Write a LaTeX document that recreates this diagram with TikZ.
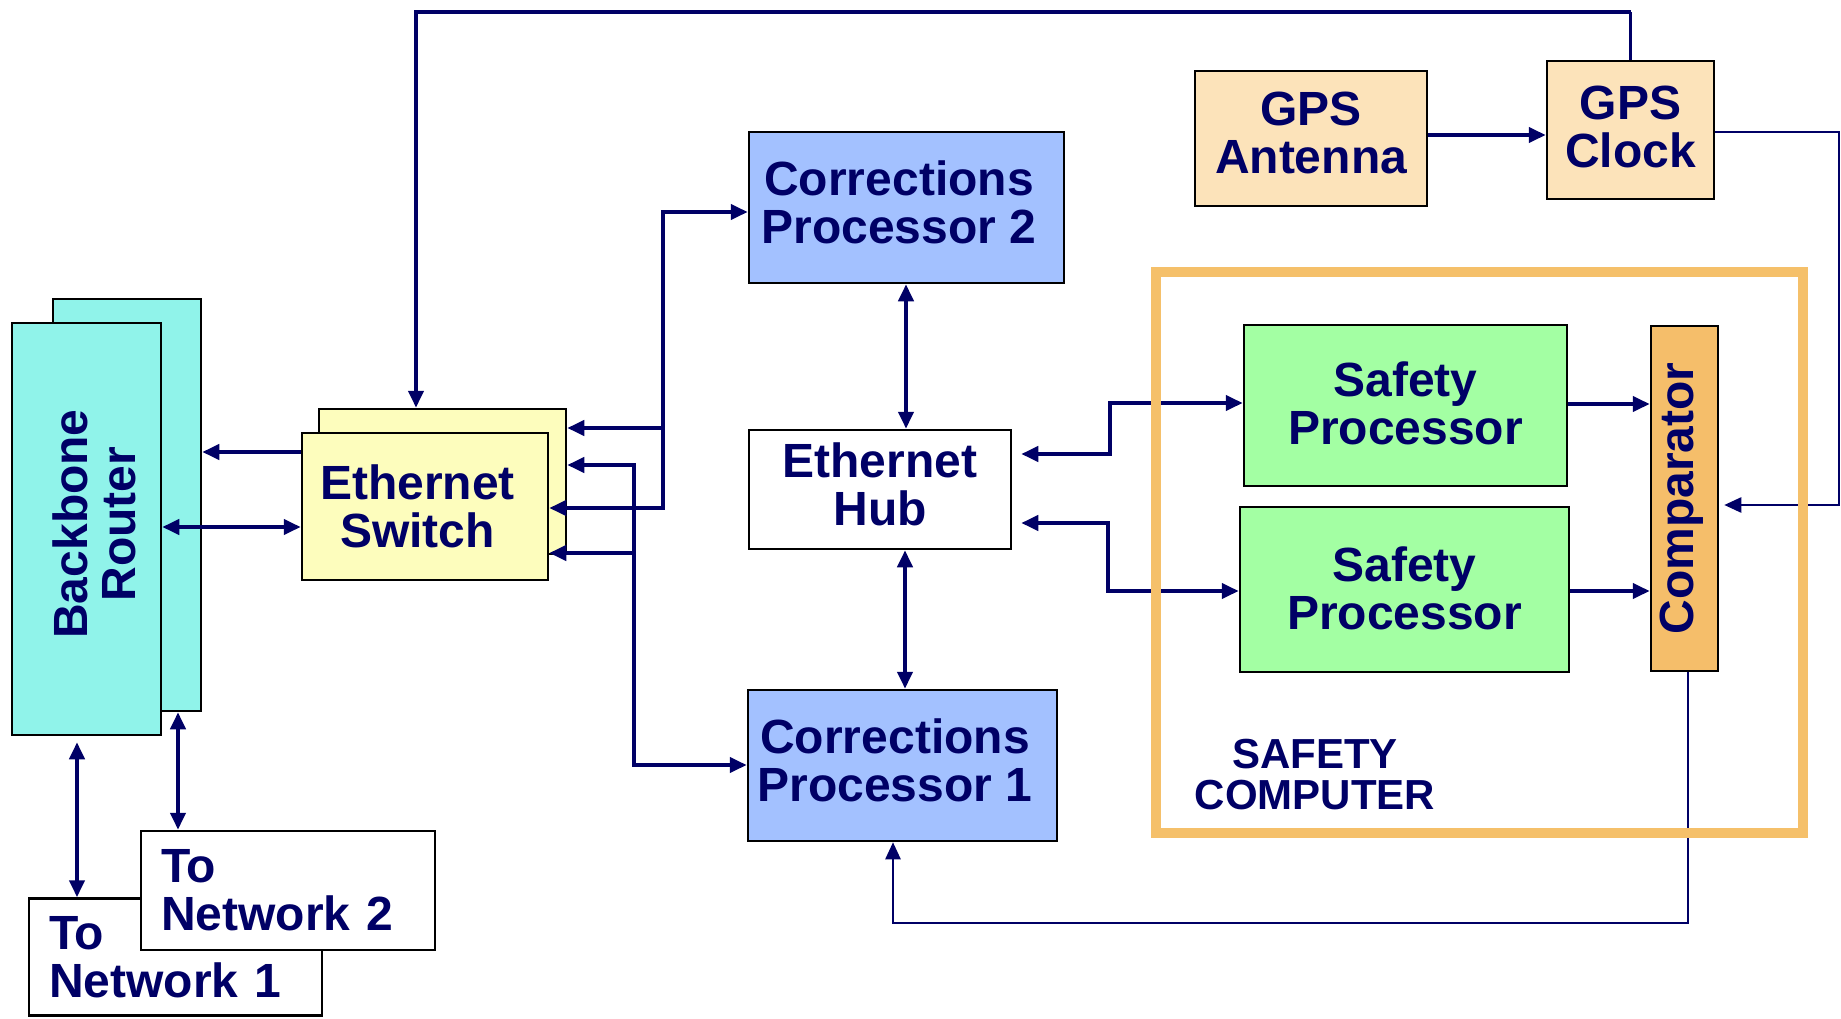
\documentclass[tikz,border=0pt]{standalone}
\usepackage{fontspec}
\setmainfont{Liberation Sans}
\usetikzlibrary{arrows.meta}

\definecolor{ink}{RGB}{0,0,102}
\definecolor{routerfill}{RGB}{144,243,234}
\definecolor{switchfill}{RGB}{253,253,189}
\definecolor{corrfill}{RGB}{163,193,255}
\definecolor{gpsfill}{RGB}{252,227,186}
\definecolor{safefill}{RGB}{163,255,163}
\definecolor{compfill}{RGB}{245,190,106}
\definecolor{framecol}{RGB}{245,192,106}

% trailing pad that moves a centred line a little to the left
\newcommand{\lpad}{\hspace*{15pt}}

\tikzset{
  box/.style={draw=black, line width=2.5pt, inner sep=0pt, text=ink,
    font=\bfseries\fontsize{48}{48}\selectfont, align=center},
  lbl/.style={text=ink, inner sep=0pt, font=\bfseries\fontsize{48}{48}\selectfont, align=center},
  conn/.style={draw=ink, line width=4pt},
  thinconn/.style={draw=ink, line width=2.5pt},
  >={Triangle[length=17pt,width=15pt]}
}

\begin{document}
\begin{tikzpicture}[x=1pt,y=-1pt]
\useasboundingbox (0,0) rectangle (1841,1019);

% backbone router (stacked pair)
\node[box, fill=routerfill, minimum width=148pt, minimum height=412pt] (rback) at (127,505) {};
\node[box, fill=routerfill, minimum width=149pt, minimum height=412pt] (rfront) at (86.5,529) {};
\node[lbl, rotate=90] (rlabel) at (94,524) {Backbone\\Router};

% external networks
\node[box, fill=white, minimum width=293pt, minimum height=117pt, align=left,
      text width=253pt, inner xsep=20pt] (net1) at (175.5,957) {To\\Network 1};
\node[box, fill=white, minimum width=294pt, minimum height=119pt, align=left,
      text width=254pt, inner xsep=20pt] (net2) at (288,890.5) {To\\Network 2};

% ethernet switch (stacked pair)
\node[box, fill=switchfill, minimum width=247pt, minimum height=145pt] (swback) at (442.5,481.5) {};
\node[box, fill=switchfill, minimum width=246pt, minimum height=147pt] (swfront) at (425,506.5) {Ethernet\lpad\\Switch\lpad};

% corrections processors and hub
\node[box, fill=corrfill, minimum width=315pt, minimum height=151pt, text depth=11pt] (cp2) at (906.5,207.5) {Corrections\lpad\\Processor 2\lpad};
\node[box, fill=corrfill, minimum width=309pt, minimum height=151pt, text depth=10pt] (cp1) at (902.5,765.5) {Corrections\lpad\\Processor 1\lpad};
\node[box, fill=white, minimum width=262pt, minimum height=119pt, text depth=10pt] (hub) at (880,489.5) {Ethernet\\Hub};

% GPS
\node[box, fill=gpsfill, minimum width=232pt, minimum height=135pt, text depth=11pt] (ant) at (1311,138.5) {GPS\\Antenna};
\node[box, fill=gpsfill, minimum width=167pt, minimum height=138pt, text depth=6pt] (clk) at (1630.5,130) {GPS\\Clock};

% safety computer
\node[box, fill=safefill, minimum width=323pt, minimum height=161pt, text depth=4pt] (sp1) at (1405.5,405.5) {Safety\\Processor};
\node[box, fill=safefill, minimum width=329pt, minimum height=165pt, text depth=2pt] (sp2) at (1404.5,589.5) {Safety\\Processor};
\node[box, fill=compfill, minimum width=67pt, minimum height=345pt] (comp) at (1684.5,498.5) {};
\node[lbl, rotate=90] (clabel) at (1682,498.5) {Comparator};
\node[text=ink, inner sep=0pt, font=\bfseries\fontsize{42}{41}\selectfont, align=center] (sclabel) at (1315,775) {SAFETY\\COMPUTER};

% branch points
\coordinate (j1) at (663,428);
\coordinate (j2) at (634,553);

% router links
\draw[conn,->] (swfront.west |- 0,452) -- (rback.east |- 0,452);
\draw[conn,<->] (rfront.east |- 0,527) -- (swfront.west |- 0,527);
\draw[conn,<->, shorten <=6pt] (rfront.south -| 77,0) -- (net1.north -| 77,0);
\draw[conn,<->] (rback.south -| 178,0) -- (net2.north -| 178,0);

% GPS links
\draw[conn,->] (ant.east |- 0,135) -- (clk.west |- 0,135);
\draw[thinconn] (clk.north) -- (clk.north |- 0,12);
\draw[conn,->] (clk.north |- 0,12) -| (swback.north -| 416,0);
\draw[thinconn,->, shorten >=5pt] (clk.east |- 0,132) -| (1839,505) -- (comp.east |- 0,505);

% corrections processors to switch
\draw[conn,<->] (swfront.east |- 0,508) -| (663,212) -- (cp2.west |- 0,212);
\draw[conn,->] (j1) -- (swback.east |- j1);
\draw[conn,<->] (swback.east |- 0,465) -| (634,765) -- (cp1.west |- 0,765);
\draw[conn,->] (j2) -- (swfront.east |- j2);

% hub links
\draw[conn,<->] (cp2.south -| 906,0) -- (hub.north -| 906,0);
\draw[conn,<->] (hub.south -| 905,0) -- (cp1.north -| 905,0);
\draw[conn,<->, shorten <=9pt] (hub.east |- 0,454) -| (1110,403) -- (sp1.west |- 0,403);
\draw[conn,<->, shorten <=9pt] (hub.east |- 0,523) -| (1108,591) -- (sp2.west |- 0,591);

% safety processors to comparator, comparator back to corrections processor 1
\draw[conn,->] (sp1.east |- 0,404) -- (comp.west |- 0,404);
\draw[conn,->] (sp2.east |- 0,591) -- (comp.west |- 0,591);
\draw[thinconn,->] (comp.south -| 1688,0) |- (893,923) -- (cp1.south -| 893,0);

% safety computer enclosure
\node[draw=framecol, line width=10pt, minimum width=647pt, minimum height=561pt, inner sep=0pt] (scframe) at (1479.5,552.5) {};
\end{tikzpicture}
\end{document}
